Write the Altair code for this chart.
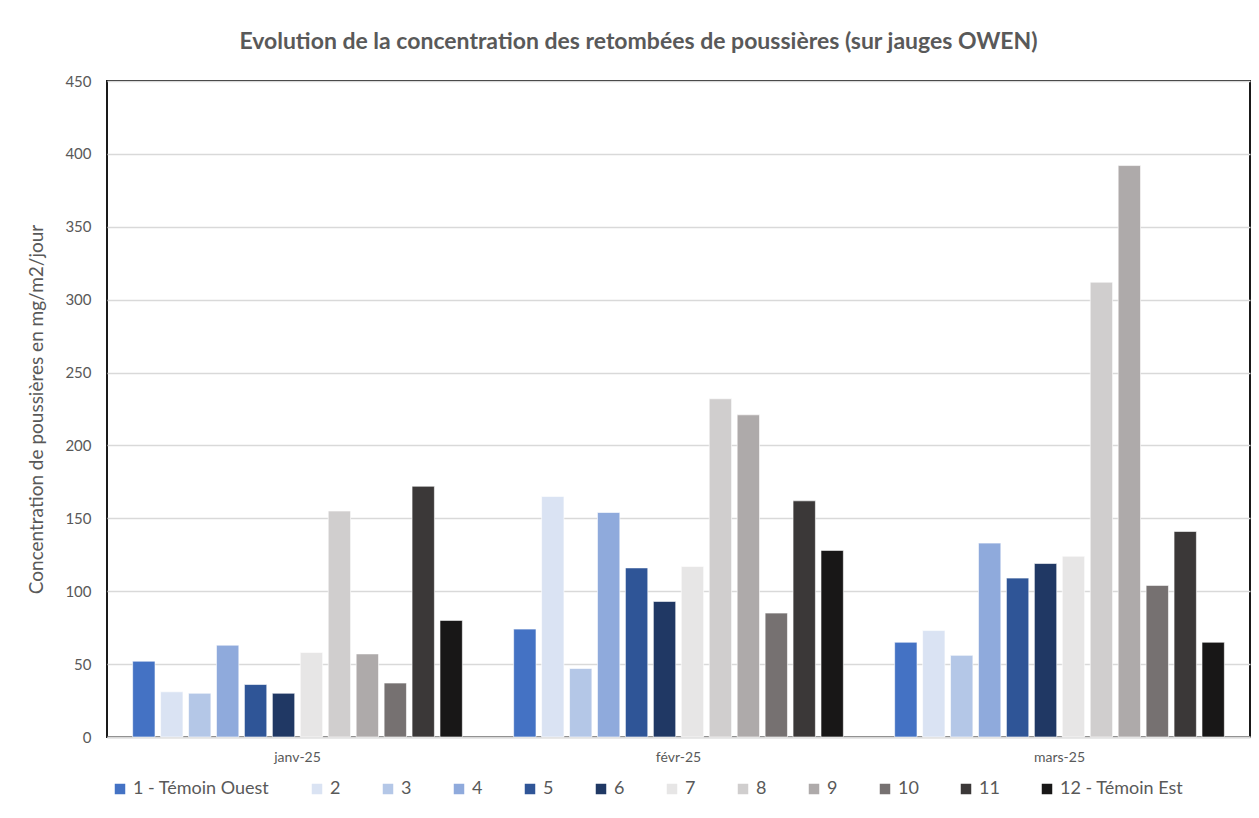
import altair as alt
import pandas as pd

months = ["janv-25", "févr-25", "mars-25"]
series = ["1 - Témoin Ouest", "2", "3", "4", "5", "6", "7", "8", "9", "10", "11", "12 - Témoin Est"]
colors = ["#4472C4", "#DAE3F3", "#B4C7E7", "#8FAADC", "#2F5597", "#203864",
          "#E7E6E6", "#D0CECE", "#AEAAAA", "#767171", "#3B3838", "#181717"]
values_jan = [52, 31, 30, 63, 36, 30, 58, 155, 57, 37, 172, 80]
values_feb = [74, 165, 47, 154, 116, 93, 117, 232, 221, 85, 162, 128]
values_mar = [65, 73, 56, 133, 109, 119, 124, 312, 392, 104, 141, 65]

rows = []
for m, vals in zip(months, [values_jan, values_feb, values_mar]):
    for s, v in zip(series, vals):
        rows.append({"mois": m, "jauge": s, "valeur": v})
df = pd.DataFrame(rows)

FONT = "Lato"
GREY = "#595959"

chart = alt.Chart(df).mark_bar(stroke="white", strokeWidth=0.6).encode(
    x=alt.X("mois:N", sort=months,
            scale=alt.Scale(paddingInner=0.12, paddingOuter=0.06),
            axis=alt.Axis(title=None, labelAngle=0, labelFontSize=14, labelColor=GREY,
                          labelPadding=13, ticks=False, domainColor="#D9D9D9",
                          domainWidth=2, labelFont=FONT)),
    xOffset=alt.XOffset("jauge:N", sort=series,
                        scale=alt.Scale(paddingInner=0.2, paddingOuter=0.1)),
    y=alt.Y("valeur:Q",
            scale=alt.Scale(domain=[0, 450], nice=False),
            axis=alt.Axis(title="Concentration de poussières en mg/m2/jour",
                          values=list(range(0, 451, 50)), labelFontSize=15,
                          labelColor=GREY, labelPadding=16, ticks=False, domain=False,
                          gridColor="#D9D9D9", gridWidth=1.5, titleFontSize=19,
                          titleFontWeight="normal", titleColor=GREY, titlePadding=18,
                          labelFont=FONT, titleFont=FONT)),
    color=alt.Color("jauge:N", sort=series,
                    scale=alt.Scale(domain=series, range=colors),
                    legend=alt.Legend(title=None, orient="none", legendX=4, legendY=699,
                                      direction="horizontal", columns=12,
                                      symbolType="square", symbolSize=110,
                                      symbolStrokeWidth=0, labelFontSize=18,
                                      labelColor=GREY, columnPadding=38,
                                      labelFont=FONT, labelLimit=300)),
).properties(
    width=1143,
    height=656,
    title=alt.TitleParams("Evolution de la concentration des retombées de poussières (sur jauges OWEN)",
                          fontSize=23, fontWeight="bold", color=GREY, font=FONT,
                          anchor="middle", offset=20, dx=-40),
    autosize=alt.AutoSizeParams(type="none"),
    padding={"left": 99, "top": 73, "right": 1, "bottom": 73},
).configure(
    background="white"
).configure_view(
    stroke="#1a1a1a", strokeWidth=2
)

chart.save("out.html", embed_options={"renderer": "svg", "actions": False})
